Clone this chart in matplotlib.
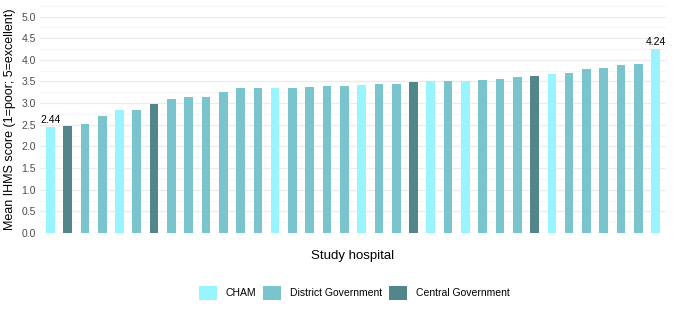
import matplotlib
matplotlib.use("Agg")
from matplotlib import pyplot as plt
from matplotlib.patches import Patch
import numpy as np

plt.rcParams['font.family'] = ['Liberation Sans', 'DejaVu Sans']

# hospital type per bar, sorted by mean score
types = ['CHAM', 'Central', 'District', 'District', 'CHAM', 'District',
         'Central', 'District', 'District', 'District', 'District', 'District',
         'District', 'CHAM', 'District', 'District', 'District', 'District',
         'CHAM', 'District', 'District', 'Central', 'CHAM', 'District',
         'CHAM', 'District', 'District', 'District', 'Central', 'CHAM',
         'District', 'District', 'District', 'District', 'District', 'CHAM']
scores = [2.44, 2.48, 2.52, 2.71, 2.84, 2.84, 2.97, 3.10, 3.14, 3.14,
          3.26, 3.34, 3.34, 3.35, 3.35, 3.38, 3.40, 3.40, 3.42, 3.44,
          3.45, 3.49, 3.50, 3.51, 3.51, 3.53, 3.55, 3.61, 3.63, 3.67,
          3.70, 3.79, 3.81, 3.87, 3.90, 4.24]

type_labels = ['CHAM', 'District Government', 'Central Government']
type_keys = ['CHAM', 'District', 'Central']
colors = {'CHAM': '#98F5FF', 'District': '#7AC5CD', 'Central': '#53868B'}

fig = plt.figure(figsize=(6.73, 3.16), dpi=100)
ax = fig.add_axes([0.0594, 0.2627, 0.9302, 0.7193])

x = np.arange(len(scores))
ax.bar(x, scores, width=0.5, color=[colors[t] for t in types], zorder=3)

ax.set_xlim(-0.6, len(scores) - 1 + 0.6)
ax.set_ylim(0, 5.25)
ax.set_yticks(np.arange(0, 5.01, 0.5))
ax.set_yticklabels([f"{v:.1f}" for v in np.arange(0, 5.01, 0.5)])
ax.set_yticks(np.arange(0.25, 5.3, 0.5), minor=True)
ax.set_xticks([])

ax.grid(axis='y', which='major', color='#EBEBEB', linewidth=0.9, zorder=0)
ax.grid(axis='y', which='minor', color='#F4F4F4', linewidth=0.6, zorder=0)
for s in ax.spines.values():
    s.set_visible(False)
ax.tick_params(axis='y', which='both', length=0, labelsize=7.5,
               labelcolor='#4D4D4D', pad=3)

ax.set_ylabel('Mean IHMS score (1=poor; 5=excellent)', fontsize=9,
              color='black', labelpad=4)
ax.set_xlabel('Study hospital', fontsize=9.5, color='black', labelpad=12)

# labels on min and max bars
for i in [0, len(scores) - 1]:
    ax.text(x[i], scores[i] + 0.05, f"{scores[i]:.2f}", ha='center',
            va='bottom', fontsize=7.5, color='black')

handles = [Patch(facecolor=colors[k], edgecolor='none') for k in type_keys]
fig.legend(handles, type_labels, loc='center', ncol=3,
           bbox_to_anchor=(0.526, 1 - 293 / 316), frameon=False,
           fontsize=7.5, handlelength=1.75, handleheight=1.75,
           columnspacing=0.7, handletextpad=0.8)

fig.savefig('out.png', dpi=100)
